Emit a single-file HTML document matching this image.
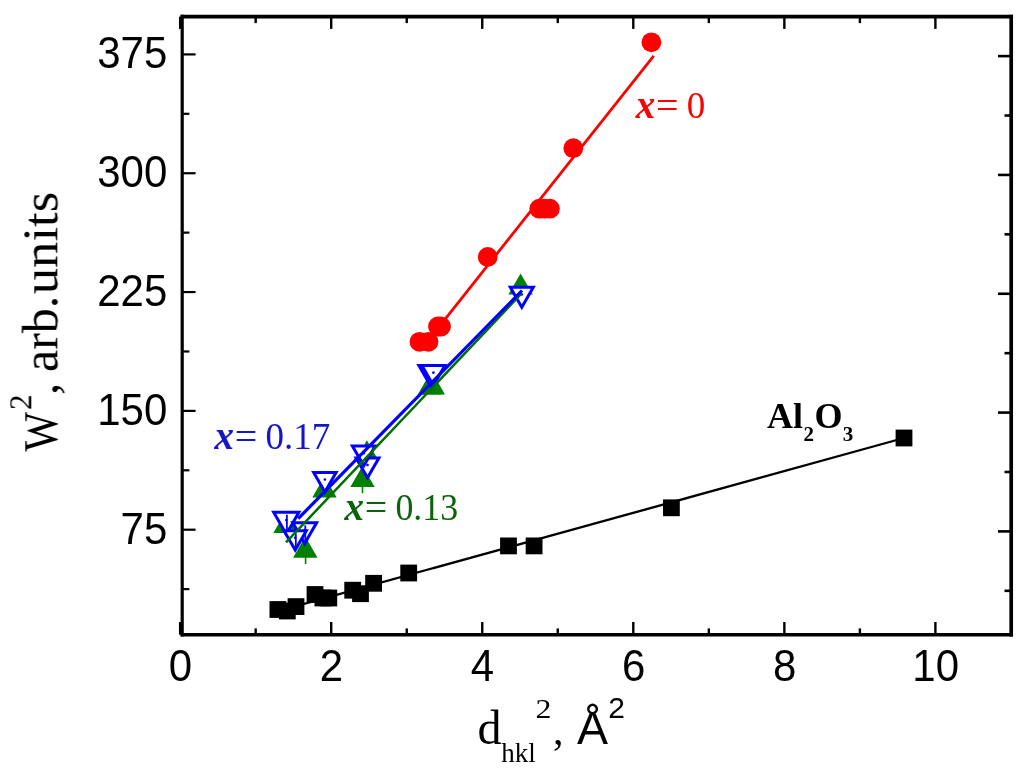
<!DOCTYPE html>
<html lang="en"><head><meta charset="utf-8"><title>W2 vs d2</title>
<style>html,body{margin:0;padding:0;background:#fff;}svg{display:block;}.sans{font-family:"Liberation Sans",Arial,sans-serif;}.serif{font-family:"Liberation Serif","Times New Roman",serif;}</style></head><body>
<svg width="1024" height="778" viewBox="0 0 1024 778">
<rect width="1024" height="778" fill="#fff"/>
<defs><filter id="soft" x="0" y="0" width="1024" height="778" filterUnits="userSpaceOnUse"><feGaussianBlur stdDeviation="0.55"/></filter></defs>
<g filter="url(#soft)">
<g stroke-linecap="butt" fill="none">
<line x1="277" y1="611.3" x2="904" y2="438" stroke="#000" stroke-width="2.3"/>
<line x1="440" y1="325.6" x2="653.75" y2="55.9" stroke="#f00" stroke-width="2.8"/>
</g>
<g>
<polygon points="273.30,533.10 297.70,533.10 285.50,511.97" fill="#008000"/>
<polygon points="293.10,557.65 317.50,557.65 305.30,536.52" fill="#008000"/>
<polygon points="312.30,497.40 336.70,497.40 324.50,476.27" fill="#008000"/>
<polygon points="350.30,487.10 374.70,487.10 362.50,465.97" fill="#008000"/>
<polygon points="354.70,461.40 379.10,461.40 366.90,440.27" fill="#008000"/>
<polygon points="417.80,394.50 442.20,394.50 430.00,373.37" fill="#008000"/>
<polygon points="420.60,394.50 445.00,394.50 432.80,373.37" fill="#008000"/>
<polygon points="508.40,294.60 532.80,294.60 520.60,273.47" fill="#008000"/>
<line x1="305.60" y1="557.00" x2="305.60" y2="564.00" stroke="#008000" stroke-width="1.6"/>
<line x1="362.50" y1="487.00" x2="362.50" y2="493.20" stroke="#008000" stroke-width="1.6"/>
</g>
<g>
<polygon points="271.10,510.80 301.50,510.80 286.30,537.13" fill="#0000ff"/>
<polygon points="276.30,513.80 296.30,513.80 286.30,531.13" fill="#fff"/>
<circle cx="286.30" cy="520.08" r="1.3" fill="#0000ff"/>
<polygon points="290.20,521.30 319.20,521.30 304.70,546.41" fill="#0000ff"/>
<polygon points="295.40,524.30 314.00,524.30 304.70,540.41" fill="#fff"/>
<circle cx="304.70" cy="530.17" r="1.3" fill="#0000ff"/>
<polygon points="281.45,529.30 308.95,529.30 295.20,553.12" fill="#0000ff"/>
<polygon points="286.65,532.30 303.75,532.30 295.20,547.12" fill="#fff"/>
<circle cx="295.20" cy="537.74" r="1.3" fill="#0000ff"/>
<polygon points="311.10,471.00 338.70,471.00 324.90,494.90" fill="#0000ff"/>
<polygon points="316.30,474.00 333.50,474.00 324.90,488.90" fill="#fff"/>
<circle cx="324.90" cy="479.47" r="1.3" fill="#0000ff"/>
<polygon points="353.50,456.40 381.50,456.40 367.50,480.65" fill="#0000ff"/>
<polygon points="358.70,459.40 376.30,459.40 367.50,474.65" fill="#fff"/>
<circle cx="367.50" cy="464.98" r="1.3" fill="#0000ff"/>
<polygon points="349.80,444.60 377.80,444.60 363.80,468.85" fill="#0000ff"/>
<polygon points="355.00,447.60 372.60,447.60 363.80,462.85" fill="#fff"/>
<circle cx="363.80" cy="453.18" r="1.3" fill="#0000ff"/>
<polygon points="416.30,364.00 444.50,364.00 430.40,388.42" fill="#0000ff"/>
<polygon points="421.50,367.00 439.30,367.00 430.40,382.42" fill="#fff"/>
<circle cx="430.40" cy="372.64" r="1.3" fill="#0000ff"/>
<polygon points="419.30,364.00 447.50,364.00 433.40,388.42" fill="#0000ff"/>
<polygon points="424.50,367.00 442.30,367.00 433.40,382.42" fill="#fff"/>
<circle cx="433.40" cy="372.64" r="1.3" fill="#0000ff"/>
<polygon points="507.70,285.80 535.90,285.80 521.80,310.22" fill="#0000ff"/>
<polygon points="512.90,288.80 530.70,288.80 521.80,304.22" fill="#fff"/>
<circle cx="521.80" cy="294.44" r="1.3" fill="#0000ff"/>
<line x1="286.90" y1="514.80" x2="286.90" y2="529.80" stroke="#0000ff" stroke-width="1.8"/>
<line x1="305.30" y1="525.30" x2="305.30" y2="540.30" stroke="#0000ff" stroke-width="1.8"/>
<line x1="295.80" y1="533.30" x2="295.80" y2="548.30" stroke="#0000ff" stroke-width="1.8"/>
</g>
<line x1="286" y1="542.4" x2="521.8" y2="293.2" stroke="#006e00" stroke-width="2.5"/>
<line x1="298.2" y1="518.6" x2="522" y2="290.5" stroke="#0000ff" stroke-width="3.2"/>
<g fill="#f00">
<circle cx="419.5" cy="341.8" r="9.9"/>
<circle cx="428.5" cy="341.8" r="9.9"/>
<circle cx="438" cy="326.5" r="9.9"/>
<circle cx="441" cy="326.5" r="9.9"/>
<circle cx="487.7" cy="256.9" r="9.9"/>
<circle cx="539.3" cy="208.7" r="9.9"/>
<circle cx="544.5" cy="208.7" r="9.9"/>
<circle cx="549.9" cy="208.7" r="9.9"/>
<circle cx="573.3" cy="148.2" r="9.9"/>
<circle cx="651.4" cy="42.3" r="9.9"/>
</g>
<g fill="#000">
<rect x="269.50" y="601.10" width="16.8" height="16.8"/>
<rect x="278.90" y="602.60" width="16.8" height="16.8"/>
<rect x="287.60" y="598.20" width="16.8" height="16.8"/>
<rect x="306.60" y="586.10" width="16.8" height="16.8"/>
<rect x="314.50" y="589.60" width="16.8" height="16.8"/>
<rect x="320.40" y="589.60" width="16.8" height="16.8"/>
<rect x="344.30" y="581.80" width="16.8" height="16.8"/>
<rect x="352.10" y="585.30" width="16.8" height="16.8"/>
<rect x="365.20" y="574.90" width="16.8" height="16.8"/>
<rect x="400.30" y="564.60" width="16.8" height="16.8"/>
<rect x="500.10" y="537.50" width="16.8" height="16.8"/>
<rect x="525.70" y="537.50" width="16.8" height="16.8"/>
<rect x="663.00" y="499.40" width="16.8" height="16.8"/>
<rect x="895.60" y="429.60" width="16.8" height="16.8"/>
</g>
<g stroke="#000" fill="none" stroke-linecap="butt">
<line x1="182.2" y1="14.750000000000002" x2="182.2" y2="636.5" stroke-width="3.2"/>
<line x1="1011.2" y1="14.750000000000002" x2="1011.2" y2="636.5" stroke-width="3.7"/>
<line x1="180.6" y1="16.6" x2="1013.0500000000001" y2="16.6" stroke-width="3.7"/>
<line x1="180.6" y1="634.7" x2="1013.0500000000001" y2="634.7" stroke-width="3.6"/>
<line x1="180.15" y1="634.7" x2="180.15" y2="622.00" stroke-width="2.4"/>
<line x1="180.15" y1="16.6" x2="180.15" y2="28.90" stroke-width="2.4"/>
<line x1="255.68" y1="634.7" x2="255.68" y2="628.40" stroke-width="2.4"/>
<line x1="255.68" y1="16.6" x2="255.68" y2="23.10" stroke-width="2.4"/>
<line x1="331.20" y1="634.7" x2="331.20" y2="622.00" stroke-width="2.4"/>
<line x1="331.20" y1="16.6" x2="331.20" y2="28.90" stroke-width="2.4"/>
<line x1="406.73" y1="634.7" x2="406.73" y2="628.40" stroke-width="2.4"/>
<line x1="406.73" y1="16.6" x2="406.73" y2="23.10" stroke-width="2.4"/>
<line x1="482.25" y1="634.7" x2="482.25" y2="622.00" stroke-width="2.4"/>
<line x1="482.25" y1="16.6" x2="482.25" y2="28.90" stroke-width="2.4"/>
<line x1="557.77" y1="634.7" x2="557.77" y2="628.40" stroke-width="2.4"/>
<line x1="557.77" y1="16.6" x2="557.77" y2="23.10" stroke-width="2.4"/>
<line x1="633.30" y1="634.7" x2="633.30" y2="622.00" stroke-width="2.4"/>
<line x1="633.30" y1="16.6" x2="633.30" y2="28.90" stroke-width="2.4"/>
<line x1="708.83" y1="634.7" x2="708.83" y2="628.40" stroke-width="2.4"/>
<line x1="708.83" y1="16.6" x2="708.83" y2="23.10" stroke-width="2.4"/>
<line x1="784.35" y1="634.7" x2="784.35" y2="622.00" stroke-width="2.4"/>
<line x1="784.35" y1="16.6" x2="784.35" y2="28.90" stroke-width="2.4"/>
<line x1="859.88" y1="634.7" x2="859.88" y2="628.40" stroke-width="2.4"/>
<line x1="859.88" y1="16.6" x2="859.88" y2="23.10" stroke-width="2.4"/>
<line x1="935.40" y1="634.7" x2="935.40" y2="622.00" stroke-width="2.4"/>
<line x1="935.40" y1="16.6" x2="935.40" y2="28.90" stroke-width="2.4"/>
<line x1="182.2" y1="589.11" x2="189.4" y2="589.11" stroke-width="2.2"/>
<line x1="1011.2" y1="590.81" x2="1004.5" y2="590.81" stroke-width="2.6"/>
<line x1="182.2" y1="529.70" x2="195.6" y2="529.70" stroke-width="2.2"/>
<line x1="1011.2" y1="531.40" x2="998.0" y2="531.40" stroke-width="2.6"/>
<line x1="182.2" y1="470.29" x2="189.4" y2="470.29" stroke-width="2.2"/>
<line x1="1011.2" y1="471.99" x2="1004.5" y2="471.99" stroke-width="2.6"/>
<line x1="182.2" y1="410.88" x2="195.6" y2="410.88" stroke-width="2.2"/>
<line x1="1011.2" y1="412.58" x2="998.0" y2="412.58" stroke-width="2.6"/>
<line x1="182.2" y1="351.47" x2="189.4" y2="351.47" stroke-width="2.2"/>
<line x1="1011.2" y1="353.17" x2="1004.5" y2="353.17" stroke-width="2.6"/>
<line x1="182.2" y1="292.06" x2="195.6" y2="292.06" stroke-width="2.2"/>
<line x1="1011.2" y1="293.76" x2="998.0" y2="293.76" stroke-width="2.6"/>
<line x1="182.2" y1="232.64" x2="189.4" y2="232.64" stroke-width="2.2"/>
<line x1="1011.2" y1="234.34" x2="1004.5" y2="234.34" stroke-width="2.6"/>
<line x1="182.2" y1="173.23" x2="195.6" y2="173.23" stroke-width="2.2"/>
<line x1="1011.2" y1="174.93" x2="998.0" y2="174.93" stroke-width="2.6"/>
<line x1="182.2" y1="113.82" x2="189.4" y2="113.82" stroke-width="2.2"/>
<line x1="1011.2" y1="115.52" x2="1004.5" y2="115.52" stroke-width="2.6"/>
<line x1="182.2" y1="54.41" x2="195.6" y2="54.41" stroke-width="2.2"/>
<line x1="1011.2" y1="56.11" x2="998.0" y2="56.11" stroke-width="2.6"/>
</g>
<g class="sans" font-size="42" fill="#000">
<text transform="translate(167.3,543.60) scale(1,1.06)" text-anchor="end">75</text>
<text transform="translate(167.3,424.78) scale(1,1.06)" text-anchor="end">150</text>
<text transform="translate(167.3,305.96) scale(1,1.06)" text-anchor="end">225</text>
<text transform="translate(167.3,187.13) scale(1,1.06)" text-anchor="end">300</text>
<text transform="translate(167.3,68.31) scale(1,1.06)" text-anchor="end">375</text>
<text transform="translate(180.45,681) scale(1,1.06)" text-anchor="middle">0</text>
<text transform="translate(331.50,681) scale(1,1.06)" text-anchor="middle">2</text>
<text transform="translate(482.55,681) scale(1,1.06)" text-anchor="middle">4</text>
<text transform="translate(633.60,681) scale(1,1.06)" text-anchor="middle">6</text>
<text transform="translate(784.65,681) scale(1,1.06)" text-anchor="middle">8</text>
<text transform="translate(935.70,681) scale(1,1.06)" text-anchor="middle">10</text>
</g>
<g class="serif" fill="#f00">
<text x="635.70" y="117.7" font-size="39" font-style="italic" font-weight="bold">x</text>
<text transform="translate(656.00,117.7) scale(1.08,1)" font-size="37">=</text>
<text x="686.70" y="117.7" font-size="37">0</text>
</g>
<g class="serif" fill="#1414c8">
<text x="214.40" y="448.7" font-size="39" font-style="italic" font-weight="bold">x</text>
<text transform="translate(234.70,448.7) scale(1.08,1)" font-size="37">=</text>
<text x="265.40" y="448.7" font-size="37">0.17</text>
</g>
<g class="serif" fill="#0a640a">
<text x="344.40" y="519.5" font-size="39" font-style="italic" font-weight="bold">x</text>
<text transform="translate(364.70,519.5) scale(1.08,1)" font-size="37">=</text>
<text x="395.40" y="519.5" font-size="37" textLength="62.8" lengthAdjust="spacingAndGlyphs">0.13</text>
</g>
<g class="serif" font-weight="bold" fill="#000">
<text x="767" y="427.5" font-size="36">Al</text>
<text x="803.6" y="441" font-size="21">2</text>
<text x="814.5" y="427.5" font-size="36">O</text>
<text x="842.8" y="441" font-size="21">3</text>
</g>
<g class="serif" fill="#000" transform="translate(57.3,451) rotate(-90)">
<text x="-0.5" y="0" font-size="49" textLength="39.5" lengthAdjust="spacingAndGlyphs">W</text>
<text x="41" y="-25.6" font-size="31">2</text>
<text x="56" y="0" font-size="49">,</text>
<text x="79" y="0" font-size="50">arb.</text>
<text x="156.7" y="0" font-size="51" textLength="102.6" lengthAdjust="spacingAndGlyphs">units</text>
</g>
<g fill="#000">
<text class="serif" x="477.5" y="743.6" font-size="48">d</text>
<text class="serif" x="501.2" y="762.4" font-size="27">hkl</text>
<text class="serif" transform="translate(535.4,718.1) scale(1.18,1)" font-size="27">2</text>
<text class="serif" x="552.9" y="744" font-size="42">,</text>
<text class="sans" x="577" y="743.9" font-size="46.5">Å</text>
<text class="sans" x="608.2" y="718.1" font-size="30">2</text>
</g>
</g>
</svg></body></html>
